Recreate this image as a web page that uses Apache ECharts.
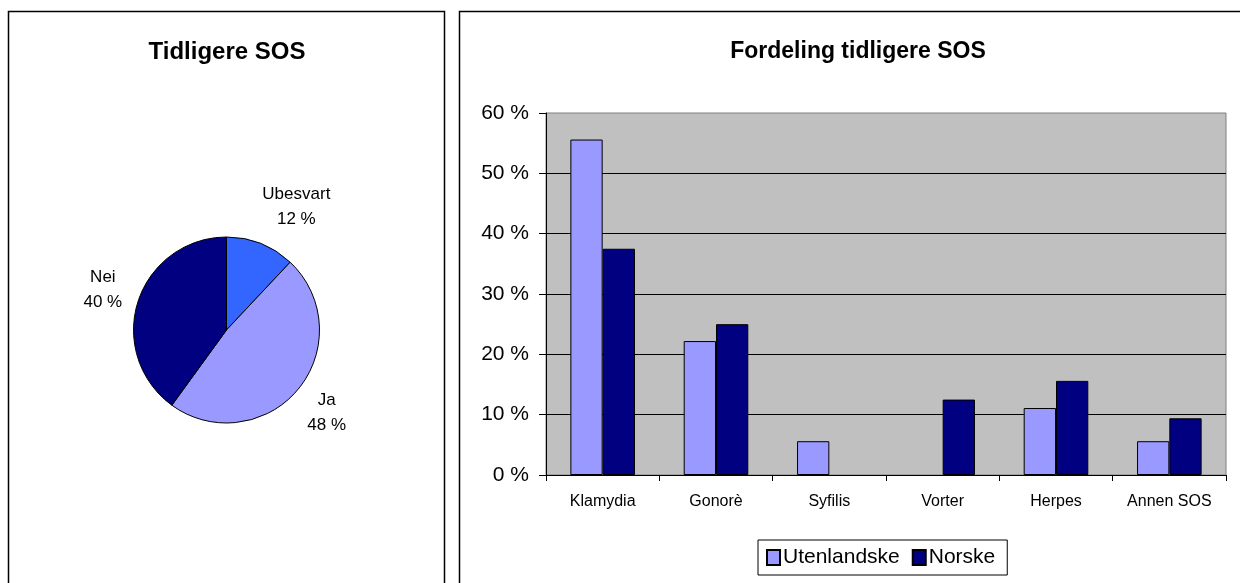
<!DOCTYPE html>
<html>
<head>
<meta charset="utf-8">
<script src="https://cdn.jsdelivr.net/npm/echarts@6/dist/echarts.min.js"></script>
<style>
html,body{margin:0;padding:0;background:#fff;}
#chart{width:1240px;height:583px;}
</style>
</head>
<body>
<div id="chart"></div>
<script>
// ---- data ----
const pieTitle = 'Tidligere SOS';
const pieNames = ['Ubesvart', 'Ja', 'Nei'];
const pieValues = [12, 48, 40];
const pieColors = ['#3366FF', '#9999FF', '#000080'];

const barTitle = 'Fordeling tidligere SOS';
const categories = ['Klamydia', 'Gonorè', 'Syfilis', 'Vorter', 'Herpes', 'Annen SOS'];
const seriesNames = ['Utenlandske', 'Norske'];
const utenlandske = [55.6, 22.2, 5.6, 0, 11.1, 5.6];
const norske = [37.5, 25.0, 0, 12.5, 15.6, 9.4];
const seriesColors = ['#9999FF', '#000080'];
const yTicks = [0, 10, 20, 30, 40, 50, 60];

// ---- chart ----
const FONT = '"Liberation Sans", Arial, sans-serif';
const chart = echarts.init(document.getElementById('chart'), null, {renderer: 'canvas'});

const pieData = pieNames.map((n, i) => ({name: n, value: pieValues[i], itemStyle: {color: pieColors[i]}}));
const labelRingData = pieNames.map((n, i) => ({
  name: n, value: pieValues[i],
  label: i === 0 ? {offset: [22, -2]} : {}
}));
// zero-height bars: no outline (Excel draws nothing)
const barData = arr => arr.map(v => v === 0 ? {value: v, itemStyle: {borderWidth: 0}} : v);

const option = {
  animation: false,
  backgroundColor: '#ffffff',
  textStyle: {fontFamily: FONT},
  graphic: [
    {type: 'rect', shape: {x: 8.5, y: 11.5, width: 436, height: 620}, style: {fill: 'none', stroke: '#000', lineWidth: 1.5}, silent: true, z: 0},
    {type: 'rect', shape: {x: 459.5, y: 11.5, width: 820, height: 620}, style: {fill: 'none', stroke: '#000', lineWidth: 1.5}, silent: true, z: 0}
  ],
  title: [
    {text: pieTitle, left: 227, top: 40, textAlign: 'center', padding: 0,
     textStyle: {fontFamily: FONT, fontSize: 24, fontWeight: 'bold', color: '#000'}},
    {text: barTitle, left: 858, top: 40, textAlign: 'center', padding: 0,
     textStyle: {fontFamily: FONT, fontSize: 23, fontWeight: 'bold', color: '#000'}}
  ],
  legend: {
    data: seriesNames,
    left: 758, top: 540,
    orient: 'horizontal',
    icon: 'rect',
    itemWidth: 13, itemHeight: 15, itemGap: 12,
    padding: [7, 12, 7, 8],
    borderColor: '#000', borderWidth: 1,
    textStyle: {fontFamily: FONT, fontSize: 21, color: '#000', padding: [0, 0, 0, -2]}
  },
  grid: {left: 546, right: 14, top: 113, bottom: 108, show: true, backgroundColor: '#C0C0C0', borderColor: '#808080', borderWidth: 1},
  xAxis: {
    type: 'category', data: categories,
    axisLine: {lineStyle: {color: '#000', width: 1}},
    axisTick: {show: true, length: 6, lineStyle: {color: '#000'}},
    axisLabel: {fontFamily: FONT, fontSize: 16, color: '#000', margin: 19}
  },
  yAxis: {
    type: 'value', min: 0, max: 60, interval: 10,
    axisLine: {show: true, lineStyle: {color: '#000', width: 1}},
    axisTick: {show: true, length: 7, lineStyle: {color: '#000'}},
    axisLabel: {fontFamily: FONT, fontSize: 21, color: '#000', margin: 17,
      formatter: v => yTicks.includes(v) ? v + ' %' : ''},
    splitLine: {show: true, showMaxLine: false, lineStyle: {color: '#000', width: 1}}
  },
  series: [
    {
      type: 'bar', name: seriesNames[0], data: barData(utenlandske),
      barGap: '0%', barCategoryGap: '43%',
      itemStyle: {color: seriesColors[0], borderColor: '#000', borderWidth: 1}
    },
    {
      type: 'bar', name: seriesNames[1], data: barData(norske),
      barGap: '0%', barCategoryGap: '43%',
      itemStyle: {color: seriesColors[1], borderColor: '#000', borderWidth: 1}
    },
    {
      type: 'pie', name: pieTitle, center: [226.5, 330], radius: [0, 93],
      startAngle: 90, clockwise: true, data: pieData,
      label: {show: false}, labelLine: {show: false},
      itemStyle: {borderColor: '#000', borderWidth: 1},
      silent: true
    },
    {
      type: 'pie', name: 'labels', center: [226.5, 330], radius: [114, 140],
      startAngle: 90, clockwise: true, data: labelRingData,
      itemStyle: {color: 'rgba(0,0,0,0)'},
      label: {show: true, position: 'inside', formatter: '{b}\n{d} %', fontFamily: FONT,
        fontSize: 17, lineHeight: 25, color: '#000', align: 'center'},
      labelLine: {show: false},
      silent: true, z: 3
    }
  ]
};
chart.setOption(option);
</script>
</body>
</html>
